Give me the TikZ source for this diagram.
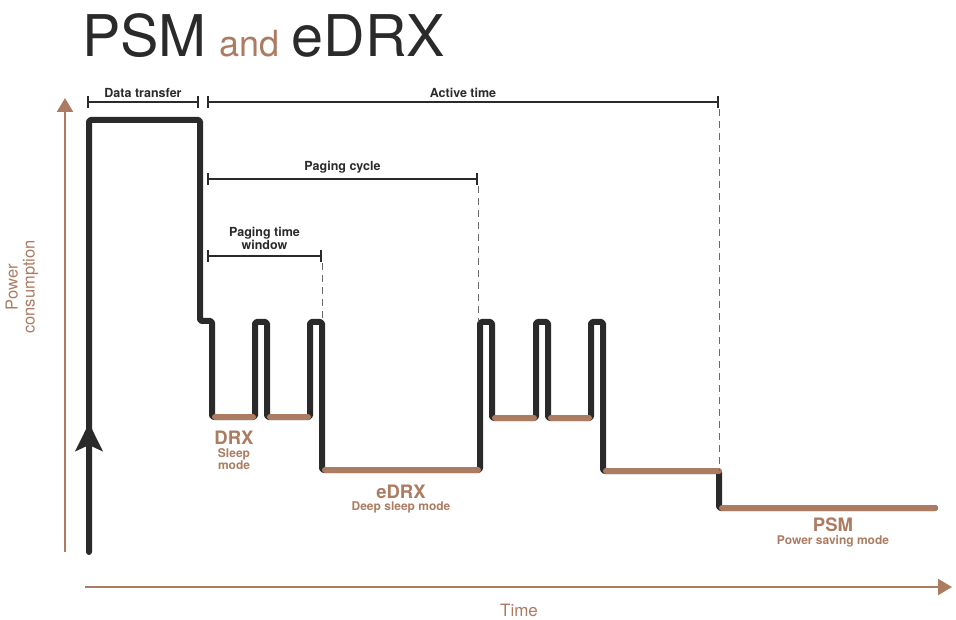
\documentclass[tikz,border=0pt]{standalone}
\usepackage{fontspec}
\setmainfont{TeX Gyre Heros}
\usepackage{xcolor}
\usetikzlibrary{arrows.meta, positioning, calc}

\definecolor{ink}{RGB}{42,42,42}
\definecolor{tan}{RGB}{172,124,98}

\begin{document}
\begin{tikzpicture}[
    x=1pt, y=-1pt,
    sig/.style={draw=ink, line width=6pt, line join=round, line cap=round, rounded corners=1.5pt},
    sleep/.style={draw=tan, line width=6pt, line cap=round},
    axis/.style={draw=tan, line width=2.5pt, -{Triangle[length=14pt, width=16pt]}},
    span/.style={draw=ink, line width=2.4pt, {Bar[width=12pt]}-{Bar[width=12pt]}},
    guide/.style={draw=ink!70, line width=0.9pt, dash pattern=on 7pt off 5pt},
    spanlbl/.style={font=\fontsize{12.5}{12}\selectfont\bfseries, text=ink, align=center, inner sep=1pt},
    mode/.style={font=\fontsize{18.5}{18}\selectfont\bfseries, text=tan, inner sep=0pt},
    modesub/.style={font=\fontsize{12}{12.5}\selectfont\bfseries, text=tan, align=center, inner sep=0pt},
    every node/.style={font=\small}
]
\useasboundingbox (0,0) rectangle (956,620);

% Title
\node[anchor=base west, inner sep=0pt, text=ink, font=\fontsize{57.5}{57}\selectfont] (tpsm) at (82,57) {PSM};
\node[inner sep=0pt, text=tan, font=\fontsize{36}{36}\selectfont, right=12pt of tpsm.base east, anchor=base west] (tand) {and};
\node[inner sep=0pt, text=ink, font=\fontsize{57.5}{57}\selectfont, right=12pt of tand.base east, anchor=base west] (tedrx) {eDRX};

% Axes
\coordinate (yfoot) at (65,552);
\coordinate (ytip) at (65,98);
\coordinate (xfoot) at (85,587);
\coordinate (xtip) at (952,587);
\draw[axis] (yfoot) -- (ytip);
\draw[axis] (xfoot) -- (xtip);
\node[text=tan, font=\fontsize{17}{17}\selectfont] (time) at (519,610) {Time};
\node[text=tan, font=\fontsize{16.5}{17}\selectfont, rotate=90, align=center] (power) at (22,287) {Power\\consumption};

% Signal corners
\coordinate (s0) at (89,552);
\coordinate (s1) at (89,120);
\coordinate (s2) at (200,120);
\coordinate (s3) at (200,321);
\coordinate (s4) at (212,321);
\coordinate (d1a) at (212,417);
\coordinate (d1b) at (255,417);
\coordinate (p1) at (267,322);
\coordinate (d2a) at (267,417);
\coordinate (d2b) at (310,417);
\coordinate (p2) at (322,322);
\coordinate (e1a) at (322,470);
\coordinate (e1b) at (480,470);
\coordinate (p3) at (492,322);
\coordinate (d3a) at (492,418);
\coordinate (d3b) at (536,418);
\coordinate (p4) at (548,322);
\coordinate (d4a) at (548,418);
\coordinate (d4b) at (591,418);
\coordinate (p5) at (603,322);
\coordinate (e2a) at (603,471);
\coordinate (e2b) at (719,471);
\coordinate (m1a) at (719,508);
\coordinate (m1b) at (935,508);

% Signal trace
\draw[sig] (s0) -- (s1) -- (s2) -- (s3) -- (s4) -- (d1a) -- (d1b)
    -- (d1b |- p1) -- (p1) -- (d2a) -- (d2b)
    -- (d2b |- p2) -- (p2) -- (e1a) -- (e1b)
    -- (e1b |- p3) -- (p3) -- (d3a) -- (d3b)
    -- (d3b |- p4) -- (p4) -- (d4a) -- (d4b)
    -- (d4b |- p5) -- (p5) -- (e2a) -- (e2b) -- (m1a) -- (m1b);
\draw[draw=ink, line width=6pt, -{Stealth[length=28pt, width=27pt, inset=6pt]}] (s0) -- (89,423);

% Sleep levels
\draw[sleep] ($(d1a)+(3,0)$) -- ($(d1b)+(-2,0)$);
\draw[sleep] ($(d2a)+(3,0)$) -- ($(d2b)+(-2,0)$);
\draw[sleep] ($(e1a)+(3,0)$) -- ($(e1b)+(-2,0)$);
\draw[sleep] ($(d3a)+(3,0)$) -- ($(d3b)+(-2,0)$);
\draw[sleep] ($(d4a)+(3,0)$) -- ($(d4b)+(-2,0)$);
\draw[sleep] ($(e2a)+(3,0)$) -- (e2b);
\draw[sleep] ($(m1a)+(3,0)$) -- (m1b);

% Spans
\coordinate (dt0) at (87,102);
\coordinate (dt1) at (199,102);
\coordinate (at0) at (207,102);
\coordinate (at1) at (719,102);
\coordinate (pc0) at (207,179);
\coordinate (pc1) at (478,179);
\coordinate (pw0) at (207,256);
\coordinate (pw1) at (322,256);
\draw[span] (dt0) -- (dt1);
\draw[span] (at0) -- (at1);
\draw[span] (pc0) -- (pc1);
\draw[span] (pw0) -- (pw1);
\node[spanlbl, above=3pt of $(dt0)!0.5!(dt1)$] (dtlbl) {Data transfer};
\node[spanlbl, above=3pt of $(at0)!0.5!(at1)$] (atlbl) {Active time};
\node[spanlbl, above=5pt of $(pc0)!0.5!(pc1)$] (pclbl) {Paging cycle};
\node[spanlbl, above=5pt of $(pw0)!0.5!(pw1)$] (pwlbl) {Paging time\\window};

% Guides
\draw[guide] ($(at1)+(0,7)$) -- (e2b);
\draw[guide] ($(pc1)+(0,7)$) -- (pc1 |- p3);
\draw[guide] ($(pw1)+(0,7)$) -- (p2);

% Mode labels
\node[mode] (drx) at (234,438) {DRX};
\node[modesub, below=3pt of drx] (drxsub) {Sleep\\mode};
\node[mode] (edrx) at (401,492) {eDRX};
\node[modesub, below=3pt of edrx] (edrxsub) {Deep sleep mode};
\node[mode] (psm) at (833,525) {PSM};
\node[modesub, below=3pt of psm] (psmsub) {Power saving mode};

\end{tikzpicture}
\end{document}
